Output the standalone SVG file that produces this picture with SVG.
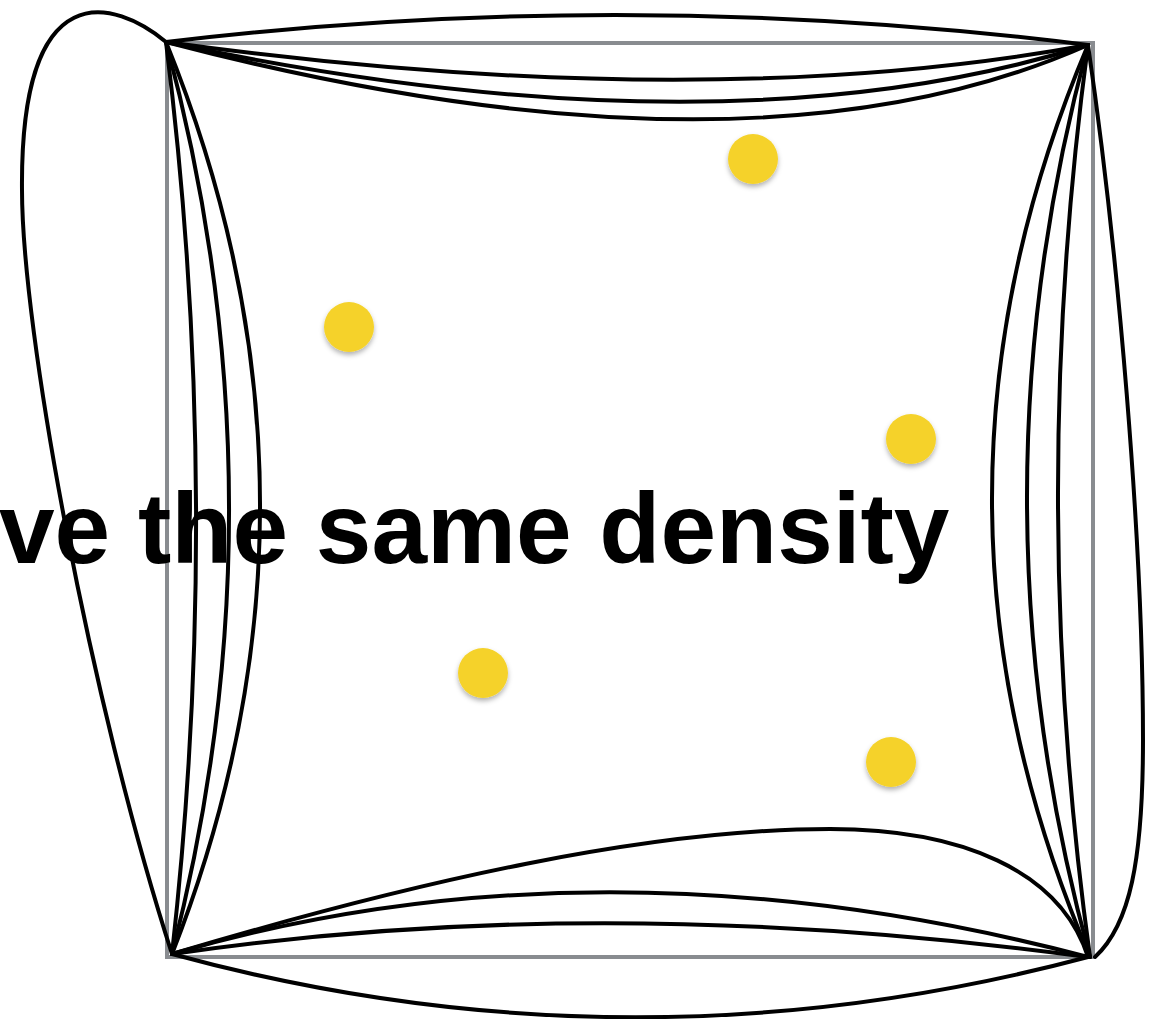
<svg xmlns="http://www.w3.org/2000/svg" width="1151" height="1019" viewBox="0 0 1151 1019">
  <defs>
    <filter id="shadow" x="-50%" y="-50%" width="200%" height="200%">
      <feDropShadow dx="0" dy="3" stdDeviation="2.5" flood-color="#000" flood-opacity="0.3"/>
    </filter>
  </defs>
  <style>
    .frame { fill: none; stroke: #898c90; stroke-width: 4; }
    .edge { fill: none; stroke: #000; stroke-width: 4; stroke-linecap: round; }
    .dot { fill: #f5d22a; filter: url(#shadow); }
    .title { font-family: "Liberation Sans", Arial, sans-serif; font-weight: bold; font-size: 100px; fill: #000; }
  </style>
  <rect width="1151" height="1019" fill="#fff"/>
  <rect class="frame" x="167" y="43" width="926" height="914"/>
  <text class="title" x="-1" y="563">ve the same density</text>
  <g id="connectors">
    <!-- top -->
    <path class="edge" d="M166,42 Q627,-13.5 1088,45"/>
    <path class="edge" d="M166,42 Q700,116 1088,45"/>
    <path class="edge" d="M166,42 Q720,160 1088,45"/>
    <path class="edge" d="M166,42 Q750,195 1088,45"/>
    <!-- left -->
    <path class="edge" d="M166,42 C115,0 20,-30 22,190 C22,330 90,700 172,954"/>
    <path class="edge" d="M166,42 Q223,498 172,954"/>
    <path class="edge" d="M166,42 Q289,498 172,954"/>
    <path class="edge" d="M166,42 Q351,498 172,954"/>
    <!-- right -->
    <path class="edge" d="M1088,45 Q895,501 1090,957"/>
    <path class="edge" d="M1088,45 Q965,501 1090,957"/>
    <path class="edge" d="M1088,45 Q1027,501 1090,957"/>
    <path class="edge" d="M1088,45 C1118,250 1143,540 1143,740 C1143,860 1130,925 1095,957"/>
    <!-- bottom -->
    <path class="edge" d="M172,954 Q630,1079 1088,957"/>
    <path class="edge" d="M172,954 Q600,891 1088,957"/>
    <path class="edge" d="M172,954 Q600,829 1088,957"/>
    <path class="edge" d="M172,954 C420,880 650,829 830,829 C960,829 1060,870 1088,957"/>
  </g>
  <g id="node-1"><circle class="dot" cx="753" cy="159" r="25"/></g>
  <g id="node-2"><circle class="dot" cx="349" cy="327" r="25"/></g>
  <g id="node-3"><circle class="dot" cx="911" cy="439" r="25"/></g>
  <g id="node-4"><circle class="dot" cx="483" cy="673" r="25"/></g>
  <g id="node-5"><circle class="dot" cx="891" cy="762" r="25"/></g>
</svg>
